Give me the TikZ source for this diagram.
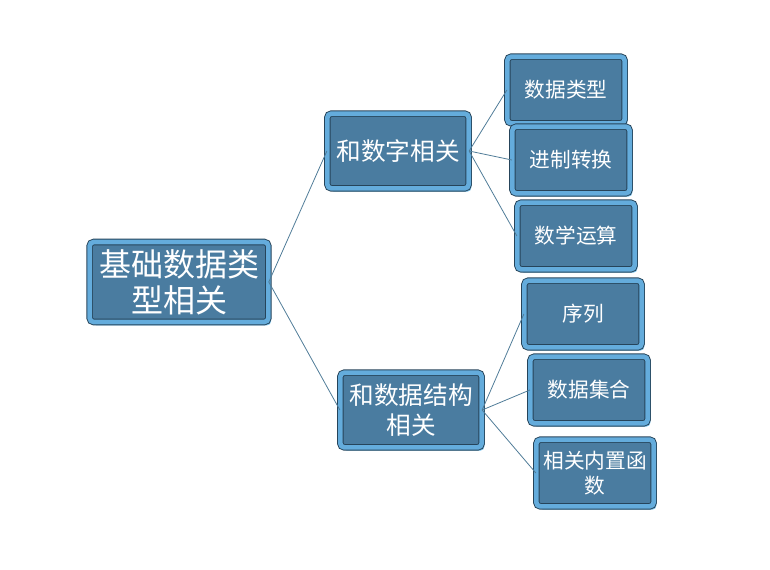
\documentclass[tikz,border=0pt]{standalone}
\usepackage{fontspec}
\setmainfont{Noto Sans CJK SC}
\usetikzlibrary{shadows}
\definecolor{face}{RGB}{74,124,160}
\definecolor{rim}{RGB}{100,172,220}
\definecolor{edgedark}{RGB}{38,68,90}
\definecolor{glow}{RGB}{120,196,240}
\definecolor{linkcol}{RGB}{80,124,152}
\tikzset{every picture/.style={x=0.75pt,y=-0.75pt}}
\tikzset{topic/.style={rectangle,rounded corners=3pt,fill=face,text=white,draw=edgedark,line width=0.7pt,double=rim,double distance=3.5pt,align=center,inner sep=2pt,drop shadow={fill=glow,opacity=1,shadow xshift=2pt,shadow yshift=-2.5pt}}}
\tikzset{root/.style={topic,minimum width=134pt,minimum height=60pt,font=\fontsize{24}{27}\selectfont}}
\tikzset{branch/.style={topic,minimum width=106pt,minimum height=56pt,font=\fontsize{18.5}{22}\selectfont}}
\tikzset{leaf/.style={topic,minimum width=88pt,minimum height=50pt,font=\fontsize{15.5}{19}\selectfont}}
\tikzset{link/.style={linkcol,line width=0.6pt}}

\begin{document}
\begin{tikzpicture}
\useasboundingbox (0,0) rectangle (770,569);
\node [root] (base) at (179,282) {基础数据类\\型相关};
\node [branch] (num) at (398,151) {和数字相关};
\node [branch] (ds) at (411,410) {和数据结构\\相关};
\node [leaf] (n1) at (566,90) {数据类型};
\node [leaf] (n2) at (571,160) {进制转换};
\node [leaf] (n3) at (576,236) {数学运算};
\node [leaf] (d1) at (583,314) {序列};
\node [leaf] (d2) at (589,390) {数据集合};
\node [leaf] (d3) at (595,473) {相关内置函\\数};
\draw [link] (base.east) -- (num.west);
\draw [link] (base.east) -- (ds.west);
\draw [link] (num.east) -- (n1.west);
\draw [link] (num.east) -- (n2.west);
\draw [link] (num.east) -- (n3.west);
\draw [link] (ds.east) -- (d1.west);
\draw [link] (ds.east) -- (d2.west);
\draw [link] (ds.east) -- (d3.west);
\end{tikzpicture}
\end{document}
